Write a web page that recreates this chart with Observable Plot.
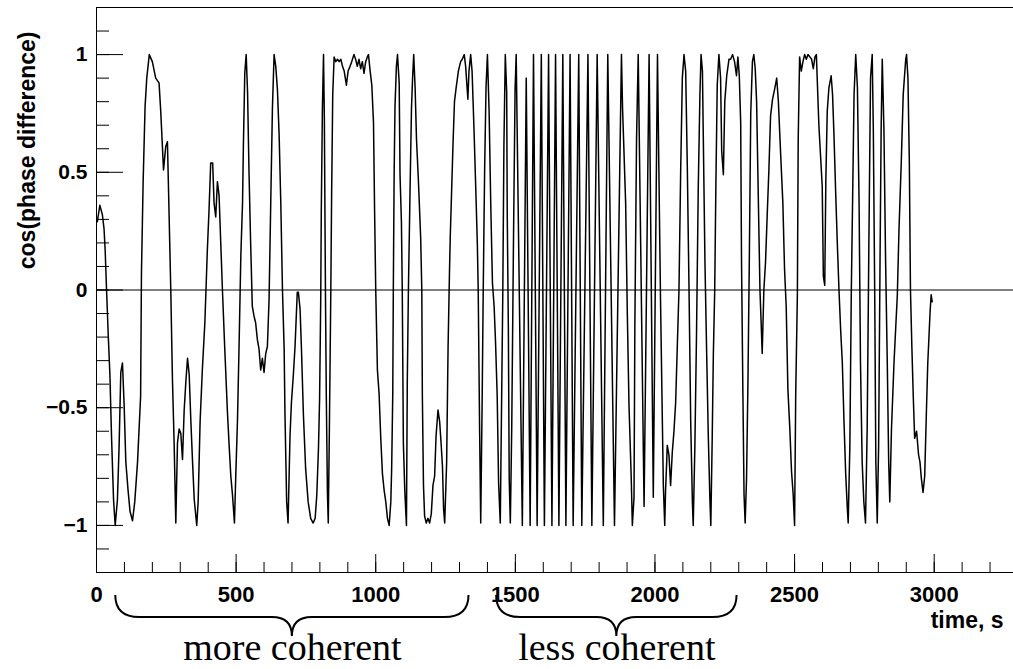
<!DOCTYPE html>
<html><head><meta charset="utf-8">
<script src="https://cdn.jsdelivr.net/npm/d3@7"></script>
<script src="https://cdn.jsdelivr.net/npm/@observablehq/plot@0.6"></script>
<style>body{margin:0;background:#fff;}</style>
</head><body><div id="chart"></div>
<script>
// time (s)
const time = [
3,12,21,27,31,36,42,48,54,61,
67,75,81,87,93,99,105,113,120,129,
137,147,158,161,167,174,180,189,200,212,
224,230,236,240,248,254,260,266,272,278,
284,290,296,302,308,314,320,326,332,338,
344,350,359,364,371,379,388,397,403,409,
416,421,427,433,439,445,451,459,469,475,
481,487,494,499,505,511,517,523,526,531,
536,541,546,552,558,564,570,576,582,588,
594,600,606,612,618,624,630,636,642,648,
654,660,666,672,675,681,686,693,698,705,
711,719,723,729,734,741,749,758,767,776,
783,789,795,799,803,805,809,813,816,820,
823,827,830,834,839,842,846,851,857,863,
869,875,881,887,895,901,908,914,922,928,
934,940,946,952,958,964,970,974,980,986,
992,996,1000,1006,1012,1018,1024,1030,1036,1042,
1048,1054,1057,1061,1063,1066,1069,1074,1078,1084,
1087,1092,1095,1099,1104,1110,1113,1117,1123,1128,
1132,1136,1141,1146,1153,1161,1165,1167,1171,1175,
1181,1187,1193,1199,1205,1211,1216,1223,1229,1234,
1239,1243,1247,1254,1259,1264,1267,1271,1277,1282,
1288,1296,1304,1310,1317,1322,1326,1330,1334,1340,
1345,1352,1359,1364,1367,1372,1376,1381,1385,1390,
1395,1400,1406,1412,1418,1424,1429,1435,1440,1446,
1451,1455,1459,1464,1469,1471,1475,1478,1482,1487,
1493,1499,1503,1525,1539,1553,1565,1578,1593,1604,
1619,1631,1644,1656,1670,1681,1696,1707,1727,1738,
1760,1774,1793,1815,1831,1855,1880,1884,1895,1901,
1907,1915,1919,1925,1928,1934,1940,1961,1979,1994,
2009,2014,2020,2026,2030,2035,2038,2042,2044,2050,
2056,2062,2068,2074,2080,2086,2092,2098,2104,2110,
2116,2122,2128,2134,2137,2143,2149,2155,2161,2165,
2170,2173,2179,2185,2191,2197,2200,2205,2209,2214,
2218,2223,2229,2235,2239,2245,2250,2257,2265,2271,
2278,2285,2292,2297,2302,2307,2310,2315,2319,2323,
2328,2333,2338,2343,2349,2354,2359,2364,2370,2376,
2380,2384,2390,2396,2402,2408,2414,2421,2428,2436,
2442,2450,2458,2464,2470,2476,2483,2489,2495,2500,
2504,2510,2513,2518,2524,2530,2536,2542,2548,2555,
2561,2567,2573,2578,2581,2587,2593,2599,2603,2608,
2612,2617,2623,2631,2636,2641,2647,2653,2659,2665,
2671,2677,2683,2689,2692,2698,2703,2708,2713,2719,
2725,2731,2736,2742,2748,2754,2760,2766,2772,2778,
2782,2787,2791,2796,2801,2806,2810,2814,2820,2826,
2832,2837,2841,2847,2856,2868,2874,2882,2889,2898,
2901,2906,2911,2915,2920,2925,2930,2937,2944,2949,
2954,2960,2966,2972,2977,2985,2989,2993
];
// cos(phase difference)
const cosPhase = [
0.29,0.36,0.32,0.26,0.17,0,-0.19,-0.36,-0.63,-0.89,
-1,-0.89,-0.66,-0.35,-0.31,-0.49,-0.73,-0.85,-0.94,-0.98,
-0.9,-0.73,-0.45,0.07,0.46,0.78,0.9,1,0.97,0.9,
0.88,0.76,0.61,0.51,0.61,0.63,0.32,0,-0.38,-0.65,
-0.99,-0.65,-0.59,-0.61,-0.72,-0.51,-0.39,-0.29,-0.36,-0.56,
-0.73,-0.89,-1,-0.9,-0.56,-0.34,-0.14,0.17,0.34,0.54,
0.54,0.37,0.31,0.46,0.4,0.2,0,-0.24,-0.52,-0.66,
-0.79,-0.87,-0.99,-0.78,-0.55,-0.21,0.15,0.37,0.61,0.92,
1,0.84,0.51,0.2,-0.07,-0.11,-0.14,-0.21,-0.25,-0.34,
-0.29,-0.35,-0.27,-0.24,-0.04,0.37,0.77,1,0.95,0.85,
0.66,0.37,0,-0.25,-0.53,-0.9,-0.99,-0.62,-0.48,-0.36,
-0.24,-0.01,-0.01,-0.08,-0.25,-0.53,-0.76,-0.9,-0.97,-0.99,
-0.97,-0.87,-0.67,-0.46,-0.04,0.33,0.77,1,0.73,-0.02,
-0.45,-0.86,-0.99,-0.59,-0.02,0.4,0.83,0.99,0.97,0.98,
0.97,0.98,0.95,0.93,0.87,0.93,0.95,0.97,1,0.98,
0.95,0.98,0.94,0.97,0.92,0.97,0.99,1,0.93,0.87,
0.71,0.33,0,-0.34,-0.44,-0.63,-0.78,-0.85,-0.9,-0.97,
-1,-0.9,-0.76,-0.44,0,0.5,0.78,0.95,1,0.88,
0.49,0.29,0,-0.65,-0.85,-1,-0.39,0,0.43,0.77,
0.9,1,0.86,0.64,0.46,0.22,0,-0.45,-0.83,-0.96,
-0.99,-0.97,-0.99,-0.95,-0.83,-0.79,-0.62,-0.51,-0.56,-0.65,
-0.75,-0.93,-0.99,-0.73,-0.25,0.07,0.23,0.39,0.63,0.8,
0.86,0.93,0.97,0.98,1,0.95,0.88,0.81,0.93,1,
0.93,0.68,0.4,0.19,0,-0.59,-0.99,-0.48,0,0.51,
0.86,1,0.76,0.36,0.03,-0.07,-0.22,-0.45,-0.82,-0.99,
-0.45,-0.02,0.61,1,0.84,0.32,-0.17,-0.8,-0.99,-0.59,
0.17,0.85,1,-1,0.9,-1,1,-1,1,-1,
1,-1,1,-1,1,-1,1,-1,1,-1,
1,-1,1,-1,1,-1,1,0.77,0.37,-0.1,
-0.49,-0.8,-1,-0.88,-0.15,0.64,1,-0.92,1,-0.88,
1,0.51,-0.05,-0.52,-0.83,-1,-0.85,-0.73,-0.66,-0.7,
-0.83,-0.69,-0.6,-0.48,-0.24,0,0.5,0.9,1,0.93,
0.51,0,-0.56,-0.9,-1,-0.66,-0.17,0.43,0.83,1,
0.93,0.66,0.12,-0.26,-0.62,-0.9,-1,-0.63,-0.28,0,
0.43,0.87,1,0.9,0.59,0.49,0.8,0.91,0.98,0.98,
1,0.97,0.91,0.99,0.91,0.71,0.12,-0.45,-0.87,-0.99,
-0.8,-0.39,0.14,0.75,0.97,1,0.94,0.8,0.4,0,
-0.13,-0.27,0,0.12,0.32,0.51,0.74,0.81,0.85,0.9,
0.8,0.58,0.37,0.09,-0.07,-0.42,-0.59,-0.77,-0.87,-1,
-0.45,-0.02,0.64,0.99,0.93,0.97,1,0.98,1,0.99,
0.98,0.94,0.99,1,0.9,0.7,0.57,0.44,0.06,0.02,
0.47,0.76,0.86,0.91,0.83,0.66,0.42,0.2,0,-0.17,
-0.31,-0.56,-0.78,-0.93,-0.99,-0.66,-0.02,0.4,0.83,1,
0.86,0.37,-0.31,-0.73,-0.9,-0.99,-0.59,0.19,0.9,1,
0.68,-0.02,-0.73,-0.99,-0.66,0.12,0.68,0.98,0.68,0.12,
-0.31,-0.73,-0.9,-0.59,-0.31,-0.02,0.26,0.54,0.83,0.98,
1,0.9,0.54,0,-0.24,-0.45,-0.63,-0.6,-0.7,-0.73,
-0.8,-0.86,-0.79,-0.52,-0.31,-0.1,-0.02,-0.05
];

const xMajorTicks = [0, 500, 1000, 1500, 2000, 2500, 3000];
const xTickLabels = ["0", "500", "1000", "1500", "2000", "2500", "3000"];
const xMinorTicks = [0,100,200,300,400,500,600,700,800,900,1000,1100,1200,1300,1400,1500,1600,1700,1800,1900,2000,2100,2200,2300,2400,2500,2600,2700,2800,2900,3000,3100,3200];
const yMajorTicks = [-1, -0.5, 0, 0.5, 1];
const yTickLabels = ["\u22121", "\u22120.5", "0", "0.5", "1"];
const yMinorTicks = [-1.2,-1.1,-1,-0.9,-0.8,-0.7,-0.6,-0.5,-0.4,-0.3,-0.2,-0.1,0,0.1,0.2,0.3,0.4,0.5,0.6,0.7,0.8,0.9,1,1.1,1.2];

const xTitle = "time, s";
const yTitle = "cos(phase difference)";
const braceLabels = ["more coherent", "less coherent"];
const braceStart = [69, 1433];
const braceEnd = [1334, 2294];

const n = Math.min(time.length, cosPhase.length);
const series = d3.range(n).map(i => ({t: time[i], v: cosPhase[i]}));

const sans = "'Liberation Sans', Arial, Helvetica, sans-serif";
const serif = "'Liberation Serif', 'Times New Roman', serif";

function braces(index, scales, values, dimensions) {
  const g = d3.create("svg:g");
  const base = dimensions.height - dimensions.marginBottom;
  const y0 = base + 23, y1 = base + 45, y2 = base + 64;
  braceStart.forEach((s, i) => {
    const x1 = scales.x(s), x2 = scales.x(braceEnd[i]), xm = (x1 + x2) / 2;
    const r = 24, rt = 20;
    g.append("path")
      .attr("d", `M${x1},${y0} Q${x1},${y1} ${x1 + r},${y1} L${xm - rt},${y1} Q${xm},${y1} ${xm},${y2} Q${xm},${y1} ${xm + rt},${y1} L${x2 - r},${y1} Q${x2},${y1} ${x2},${y0}`)
      .attr("fill", "none").attr("stroke", "#000").attr("stroke-width", 2);
  });
  return g.node();
}

const chart = Plot.plot({
  width: 1013,
  height: 669,
  marginLeft: 96,
  marginRight: 0,
  marginTop: 7,
  marginBottom: 97,
  style: {fontFamily: sans, background: "#fff", color: "#000", overflow: "visible"},
  x: {domain: [0, 3284]},
  y: {domain: [-1.2, 1.2]},
  marks: [
    Plot.ruleY([0], {stroke: "#000", strokeWidth: 1}),
    Plot.line(series, {x: "t", y: "v", stroke: "#000", strokeWidth: 1.5}),
    Plot.axisX(xMinorTicks, {tickSize: -10, tickFormat: () => "", label: null}),
    Plot.axisX(xMajorTicks, {tickSize: -18, tickFormat: () => "", label: null}),
    Plot.axisX(xMajorTicks, {tickSize: 0, tickPadding: 14, label: null,
      tickFormat: d => xTickLabels[xMajorTicks.indexOf(d)], fontSize: 22, fontWeight: "bold"}),
    Plot.axisY(yMinorTicks, {tickSize: -13, tickFormat: () => "", label: null}),
    Plot.axisY(yMajorTicks, {tickSize: -27, tickFormat: () => "", label: null}),
    Plot.axisY(yMajorTicks, {tickSize: 0, tickPadding: 9, label: null,
      tickFormat: d => yTickLabels[yMajorTicks.indexOf(d)], fontSize: 21, fontWeight: "bold"}),
    Plot.frame({stroke: "#000", strokeWidth: 1}),
    Plot.text([yTitle], {text: d => d, frameAnchor: "top-left", lineAnchor: "middle", rotate: -90, textAnchor: "end",
      dx: -69, dy: 24, fontSize: 23, fontWeight: "bold"}),
    Plot.text([xTitle], {text: d => d, frameAnchor: "bottom-right", lineAnchor: "middle", textAnchor: "end",
      dx: -10, dy: 48, fontSize: 23, fontWeight: "bold"}),
    braces,
    Plot.text(braceLabels, {text: d => d, x: (d, i) => (braceStart[i] + braceEnd[i]) / 2,
      frameAnchor: "bottom", lineAnchor: "middle", dy: 75, fontSize: 38, fontFamily: serif})
  ]
});
document.getElementById("chart").appendChild(chart);
</script>
</body></html>
